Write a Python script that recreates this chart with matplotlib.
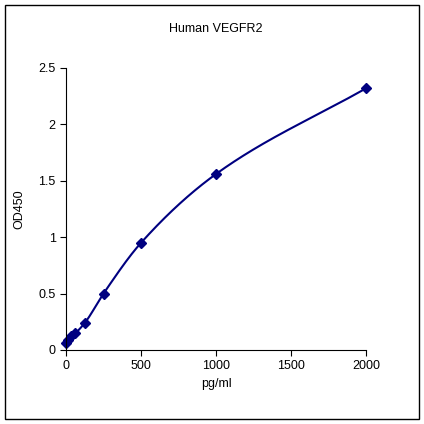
import numpy as np
import matplotlib
matplotlib.use("Agg")
import matplotlib.pyplot as plt
from matplotlib.patches import Rectangle

conc = [0, 15.6, 31.25, 62.5, 125, 250, 500, 1000, 2000]
od = [0.06, 0.09, 0.12, 0.15, 0.24, 0.50, 0.95, 1.56, 2.32]
xticks = [0, 500, 1000, 1500, 2000]
yticks = [0, 0.5, 1, 1.5, 2, 2.5]

def pchip(x, y, xs):
    x = np.asarray(x, float); y = np.asarray(y, float)
    h = np.diff(x); d = np.diff(y) / h
    m = np.zeros_like(y)
    for k in range(1, len(x) - 1):
        if d[k-1] * d[k] > 0:
            w1 = 2*h[k] + h[k-1]; w2 = h[k] + 2*h[k-1]
            m[k] = (w1 + w2) / (w1/d[k-1] + w2/d[k])
    m[0] = d[0]; m[-1] = d[-1]
    idx = np.clip(np.searchsorted(x, xs) - 1, 0, len(h) - 1)
    t = (xs - x[idx]) / h[idx]
    h00 = 2*t**3 - 3*t**2 + 1; h10 = t**3 - 2*t**2 + t
    h01 = -2*t**3 + 3*t**2; h11 = t**3 - t**2
    return h00*y[idx] + h10*h[idx]*m[idx] + h01*y[idx+1] + h11*h[idx]*m[idx+1]

fig = plt.figure(figsize=(4.24, 4.24), dpi=100)
fig.patches.append(Rectangle((5/424, 5/424), 414/424, 414/424, transform=fig.transFigure,
                             fill=False, edgecolor='black', linewidth=1))
ax = fig.add_axes([66/424, 74/424, 300/424, 282/424])
xs = np.linspace(0, 2000, 800)
ax.plot(xs, pchip(conc, od, xs), color='#000080', linewidth=1.5, clip_on=False)
ax.plot(conc, od, linestyle='none', marker='D', markersize=5.5, color='#000080', clip_on=False)
ax.set_xlim(0, 2000); ax.set_ylim(0, 2.5)
ax.set_xticks(xticks); ax.set_yticks(yticks)
ax.set_xticklabels([str(v) for v in xticks])
ax.set_yticklabels(['0', '0.5', '1', '1.5', '2', '2.5'])
ax.spines['top'].set_visible(False); ax.spines['right'].set_visible(False)
ax.tick_params(labelsize=9, direction='out', length=4)
ax.set_xlabel('pg/ml', fontsize=9)
ax.set_ylabel('OD450', fontsize=9, labelpad=9)
ax.set_title('Human VEGFR2', fontsize=9, pad=26)
for t in ax.get_xticklabels() + ax.get_yticklabels():
    t.set_family('Liberation Sans')
for t in [ax.xaxis.label, ax.yaxis.label, ax.title]:
    t.set_family('Liberation Sans')
fig.savefig('out.png', dpi=100)
